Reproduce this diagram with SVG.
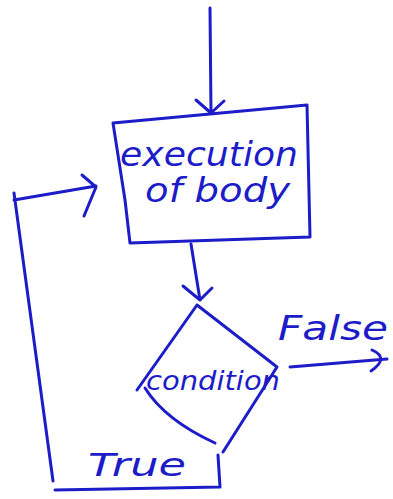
<svg xmlns="http://www.w3.org/2000/svg" width="393" height="499" viewBox="0 0 393 499">
<style>
.s{fill:none;stroke:#1c1cc8;stroke-width:3;stroke-linecap:round;stroke-linejoin:round}
.t{fill:#1c1cc8;font-family:"DejaVu Sans",sans-serif;font-style:italic}
</style>
<rect width="393" height="499" fill="#fff"/>
<g id="connectors">
<path class="s" d="M210 8 L211 113 M196 100 L211 113 L224 101"/>
<path class="s" d="M191 244 L200 300 M183 286 L200 300 L212 288"/>
<path class="s" d="M290 367 L387 359 M372 350 Q390 358 371 371"/>
<path class="s" d="M218 455 L220 487 L55 490 M53 481 L14 193 M14 200 L96 186 M82 175 L96 187 L84 216"/>
<text class="t" x="278" y="340" font-size="34" textLength="110" lengthAdjust="spacingAndGlyphs">False</text>
<text class="t" x="88" y="476" font-size="32" textLength="98" lengthAdjust="spacingAndGlyphs">True</text>
</g>
<g id="body">
<path class="s" d="M113 123 L307 105 L310 237 L130 243 L125 200 Z"/>
<text class="t" x="120" y="166" font-size="34" textLength="178" lengthAdjust="spacingAndGlyphs">execution</text>
<text class="t" x="145" y="202" font-size="34" textLength="145" lengthAdjust="spacingAndGlyphs">of body</text>
</g>
<g id="condition">
<path class="s" d="M197 305 L277 367 L223 452 M137 390 L197 305 M145 388 Q165 420 215 443"/>
<text class="t" x="146" y="390" font-size="26" textLength="134" lengthAdjust="spacingAndGlyphs">condition</text>
</g>
</svg>
